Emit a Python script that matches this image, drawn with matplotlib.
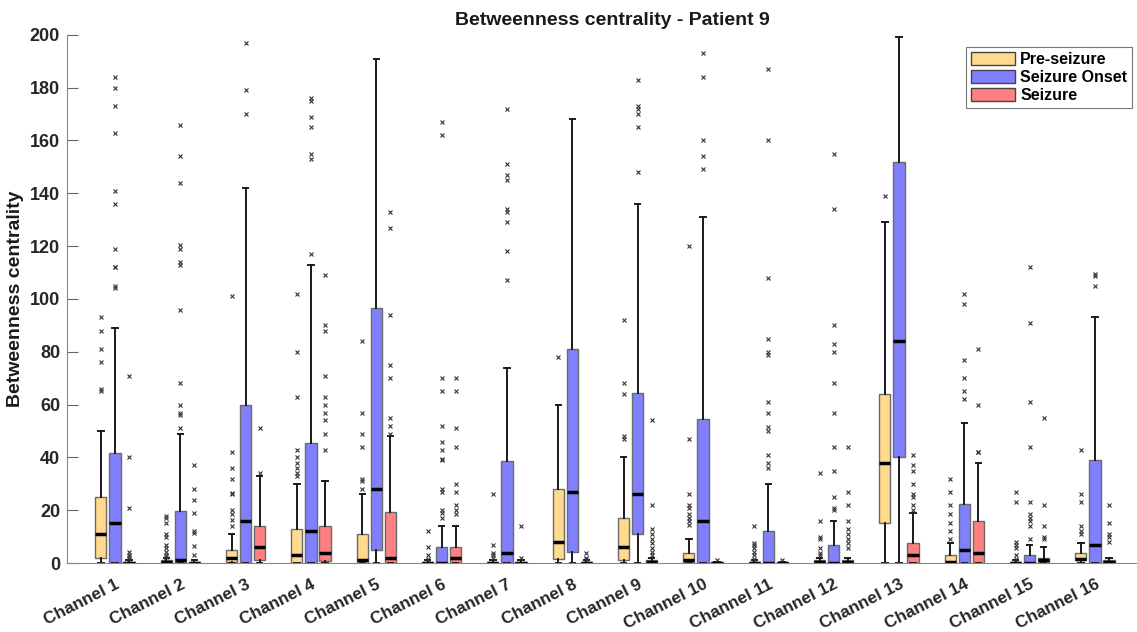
import matplotlib
matplotlib.use("Agg")
import matplotlib.pyplot as plt
import matplotlib.transforms as mtransforms
from matplotlib.patches import Patch

plt.rcParams['font.family'] = ['Liberation Sans', 'DejaVu Sans']

channels = [f"Channel {i}" for i in range(1, 17)]
groups = ["Pre-seizure", "Seizure Onset", "Seizure"]

# (whislo, q1, med, q3, whishi) per channel
pre_box = [(0, 2, 11, 25, 50), (0, 0, 0.3, 1, 2), (0, 0.5, 2, 5, 11), (0, 0, 3, 13, 30),
           (0, 0, 1, 11, 26), (0, 0, 0, 0.5, 1), (0, 0, 0, 0.5, 1), (0, 1.4, 8, 28, 60),
           (0, 1, 6, 17, 40), (0, 0, 1, 4, 9), (0, 0, 0, 0.5, 1), (0, 0, 0.5, 1, 2),
           (0, 15, 38, 64, 129), (0, 0, 0.5, 3, 7.7), (0, 0, 0, 0.5, 1), (0, 1, 1.4, 4, 7.7)]
onset_box = [(0, 0, 15, 41.5, 89), (0, 0, 1, 19.6, 49), (0, 0, 16, 60, 142), (0, 0, 12, 45.4, 113),
             (0, 5, 28, 96.5, 191), (0, 0, 0, 6.2, 14), (0, 0, 4, 38.5, 74), (0, 4.3, 27, 81, 168),
             (0, 11, 26, 64.5, 136), (0, 0, 16, 54.6, 131), (0, 0, 0, 12, 30), (0, 0, 0, 6.8, 16),
             (0, 40.3, 84, 152, 199), (0, 0, 5, 22.4, 53), (0, 0, 0, 3, 7), (0, 0, 7, 39, 93)]
seiz_box = [(0, 0, 0, 0.5, 1), (0, 0, 0, 0.5, 1), (0, 1, 6, 14, 33), (0, 0.7, 4, 14, 31),
            (0, 0, 2, 19.5, 48), (0, 0, 2, 6, 14), (0, 0, 0, 0.5, 1), (0, 0, 0, 0.5, 1),
            (0, 0, 0.3, 1, 2), (0, 0, 0, 0.3, 0.5), (0, 0, 0, 0.3, 0.5), (0, 0, 0.3, 1, 2),
            (0, 0, 3, 7.7, 19), (0, 0, 4, 15.8, 38), (0, 0, 1, 2, 6), (0, 0, 0.5, 1, 2)]

pre_fliers = [[93, 88, 81, 76, 66, 65], [18, 17, 15, 11, 10, 7, 5.7, 4.3, 3, 2.3],
              [101, 42, 36, 32, 26.6, 26, 20, 18.5, 16.5, 14], [102, 80, 63, 43, 40, 38, 36, 34, 33],
              [84, 57, 49, 44, 32, 31, 28], [12, 6, 3, 1.6], [26, 7, 4, 3, 2], [78],
              [92, 68, 64, 48, 47], [120, 47, 26, 22, 21, 18.5, 17, 16, 14.5],
              [14, 7.7, 7, 5.7, 4.3, 3, 1.6], [34, 16, 10, 9, 5.7, 4, 3], [139],
              [32, 27, 22, 18.5, 15, 12, 9], [27, 23, 8, 7, 5.7, 3, 1.6], [43, 26, 23, 14, 12, 11]]
onset_fliers = [[184, 180, 173, 163, 141, 136, 119, 112, 112, 105, 104],
                [166, 154, 144, 120.6, 119, 114, 113, 96, 68, 60, 57, 56, 51],
                [197, 179, 170], [176, 175, 169, 165, 155, 153, 117], [],
                [167, 162, 70, 65, 52, 46, 43, 39.5, 39, 28, 27, 20, 19, 17],
                [172, 151, 147, 145, 134, 133, 129, 118, 107], [],
                [183, 173, 172, 170, 165, 148], [193, 184, 160, 154, 149],
                [187, 160, 108, 85, 80, 78.7, 61, 57, 51.6, 50, 41, 38, 36],
                [155, 134, 90, 83, 80, 68, 57, 44, 35, 25, 21, 20], [],
                [102, 98, 77, 70, 65, 62], [112, 91, 61, 44, 23, 18.5, 17, 16, 14, 9],
                [109.5, 108.7, 105]]
seiz_fliers = [[71, 40, 21, 4.3, 3, 2.3, 1.6], [37, 28, 24, 19, 12, 11.4, 6.5, 3], [51, 34],
               [109, 90, 88, 71, 63, 60, 57, 54, 49, 43], [133, 127, 94, 75, 70, 55, 52, 49],
               [70, 65, 51, 44, 30, 27, 22, 20, 18.5], [14, 2], [4, 2, 1.6],
               [54, 22, 13, 11, 9, 7.7, 5.7, 4.3, 3], [1], [1],
               [44, 27, 22, 16, 13, 11, 9, 7.7, 5.7], [41, 37, 35, 30, 26, 25, 22, 20],
               [81, 60, 42, 42], [55, 22, 14, 10, 9], [22, 15, 11, 10, 8]]

colors = ["#FFD98C", "#8080FF", "#FF8080"]
offsets = [-0.215, 0.0, 0.215]

fig = plt.figure(figsize=(11.37, 6.32), dpi=100)
ax = fig.add_axes([0.0589, 0.109, 0.9411, 0.836])

for boxes, fliers, col, off in zip([pre_box, onset_box, seiz_box],
                                   [pre_fliers, onset_fliers, seiz_fliers], colors, offsets):
    stats = []
    for (lo, q1, med, q3, hi), fl in zip(boxes, fliers):
        stats.append(dict(whislo=lo, q1=q1, med=med, q3=q3, whishi=hi, fliers=fl))
    pos = [i + 1 + off for i in range(len(channels))]
    ax.bxp(stats, positions=pos, widths=0.17, patch_artist=True, manage_ticks=False,
           boxprops=dict(facecolor=col, edgecolor="#6a6a6a", linewidth=1.0),
           medianprops=dict(color="black", linewidth=2.5, solid_capstyle="butt"),
           whiskerprops=dict(color="#1a1a1a", linewidth=1.4),
           capprops=dict(color="#1a1a1a", linewidth=1.4),
           capwidths=0.08,
           flierprops=dict(marker="x", markersize=3.5, markeredgecolor="#333333",
                           markeredgewidth=0.8, linestyle="none"))

ax.set_xlim(0.265, 16.643)
ax.set_ylim(0, 200)
ax.set_yticks(range(0, 201, 20))
ax.set_xticks(range(1, 17))
ax.set_xticklabels(channels, rotation=27, ha="right", rotation_mode="anchor",
                   fontsize=12.3, fontweight="bold", color="#262626")
shift = mtransforms.ScaledTranslation(7 / 100, 0, fig.dpi_scale_trans)
for t in ax.get_xticklabels():
    t.set_transform(t.get_transform() + shift)
for t in ax.get_yticklabels():
    t.set_fontweight("bold")
    t.set_fontsize(13)
    t.set_color("#262626")
ax.tick_params(axis="y", direction="in", length=8, color="#666666", pad=5)
ax.tick_params(axis="x", length=0, pad=10)
ax.spines["top"].set_visible(False)
ax.spines["right"].set_visible(False)
ax.spines["left"].set_color("#888888")
ax.spines["bottom"].set_color("#888888")

ax.set_ylabel("Betweenness centrality", fontsize=14, fontweight="bold", color="#1a1a1a",
              labelpad=4)
ax.set_title("Betweenness centrality - Patient 9", fontsize=14, fontweight="bold",
             color="#1a1a1a", x=0.51, pad=7)

handles = [Patch(facecolor=c, edgecolor="#444444", label=g) for c, g in zip(colors, groups)]
leg = ax.legend(handles=handles, loc="upper right", bbox_to_anchor=(0.9953, 0.977),
                prop=dict(weight="bold", size=11.5), frameon=True, fancybox=False,
                handlelength=2.8, handleheight=0.85, handletextpad=0.3, borderpad=0.3,
                labelspacing=0.2, borderaxespad=0.0)
leg.get_frame().set_edgecolor("#555555")
leg.get_frame().set_linewidth(0.8)

fig.savefig("out.png", dpi=100)
